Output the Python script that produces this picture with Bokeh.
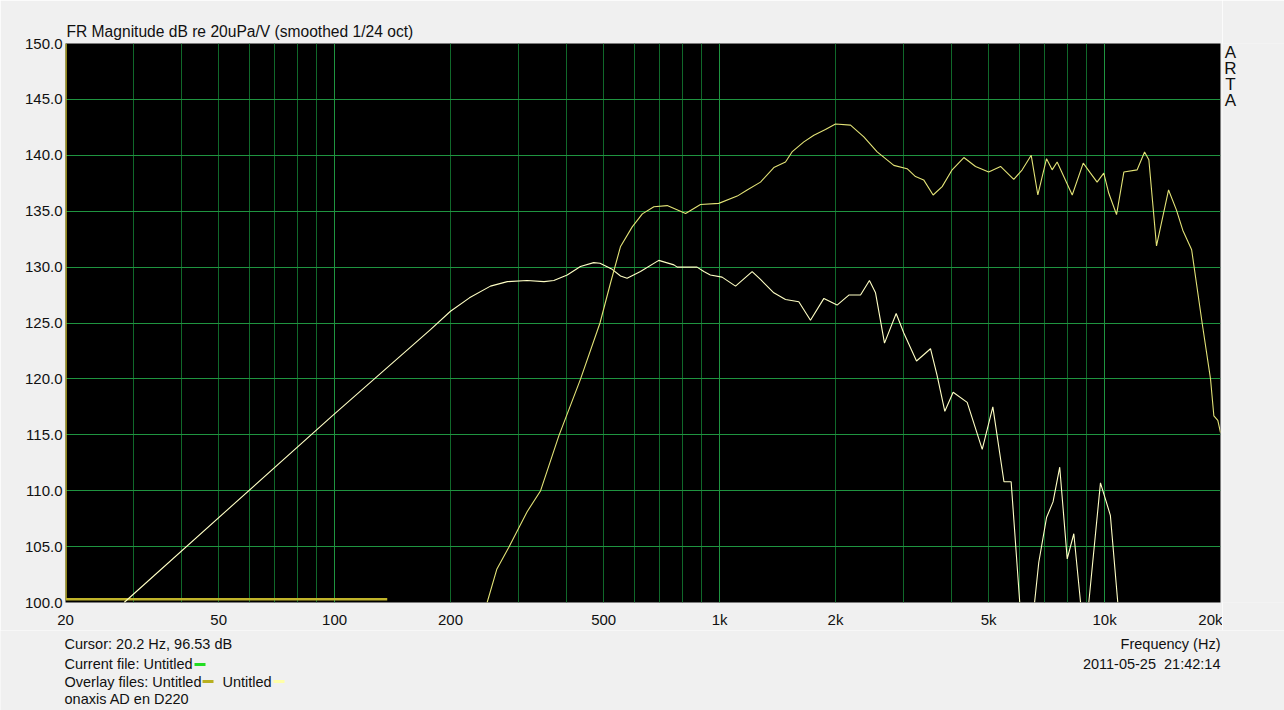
from bokeh.plotting import figure
from bokeh.layouts import column, row
from bokeh.models import Range1d, FixedTicker, Grid, NumeralTickFormatter
from bokeh.core.properties import value
from bokeh.embed import file_html
from bokeh.resources import INLINE

nan = float("nan")

# Overlay 1 (olive): runs up the left edge and along the bottom
olive_freq = [20, 20, 137]
olive_db = [150, 100.3, 100.3]

# Curve A (woofer) - frequency (Hz) and level (dB)
woofer_freq = [28.4, 98.6, 177.4, 200, 224, 254, 281, 316, 350, 371, 402, 435, 471, 489, 526, 553, 575,
               623, 695, 761, 776, 874, 910, 946, 1015, 1100, 1215, 1277, 1383, 1483, 1606, 1722, 1866,
               2019, 2166, 2323, 2450, 2541, 2681, 2875, 3009, 3247, 3530, 3673, 3846, 4042, 4396,
               4810, 5125, 5478, 5718, 6020, nan,
               6578, 6746, 7066, 7346, 7646, 7996, 8318, 8660, nan,
               9098, 9755, 10350, 10820]
woofer_db = [100.0, 116.7, 124.4, 126.05, 127.25, 128.3, 128.7, 128.8, 128.7, 128.8, 129.3, 130.05, 130.4,
             130.35, 129.8, 129.2, 129.0,
             129.6, 130.6, 130.2, 130.0, 130.0, 129.6, 129.3, 129.1, 128.3, 129.6, 128.9, 127.7, 127.1,
             126.9, 125.25, 127.2,
             126.6, 127.5, 127.5, 128.8, 127.7, 123.2, 125.85, 124.1, 121.6, 122.7, 120.3, 117.1, 118.8, 117.9,
             113.7, 117.5, 110.8, 110.8, 100.0, nan,
             100.0, 103.6, 107.6, 109.0, 112.1, 103.9, 106.15, 100.0, nan,
             100.0, 110.7, 107.8, 100.0]

# Curve B (mid/tweeter)
tweeter_freq = [249, 264, 283.5, 316, 342.8, 382.3, 435, 489, 521, 553, 593, 630, 675, 731, 816, 892, 995,
                1111, 1179, 1277, 1383, 1483, 1542, 1655, 1757, 1883, 2000, 2188, 2369, 2566, 2835, 3069,
                3227, 3389, 3586, 3785, 4018, 4309, 4621, 4999, 5367, 5808, 6109, 6447, 6708, 7066, 7307,
                7529, 8240, 8800, 9191, 9561, 9950, 10253, 10740, 11220, 12150, 12700, 13030, 13640,
                14660, 15370, 15960, 16830, 17920, 18840, 19220, 19680, 20000]
tweeter_db = [100.0, 103.0, 104.95, 108.1, 110.0, 114.9, 119.96, 125.0, 128.6, 131.85, 133.6, 134.76, 135.4,
              135.5, 134.8, 135.6, 135.7,
              136.35, 136.9, 137.6, 138.9, 139.4, 140.3, 141.2, 141.8, 142.3, 142.8, 142.7, 141.65, 140.3,
              139.1, 138.8,
              138.1, 137.8, 136.45, 137.2, 138.7, 139.8, 139.0, 138.5, 139.0, 137.85, 138.7, 140.0, 136.45,
              139.7, 138.7,
              139.4, 136.45, 139.3, 138.4, 137.6, 138.4, 136.6, 134.7, 138.5, 138.7, 140.3, 139.6, 131.9,
              136.9, 135.1, 133.3, 131.55, 125.0, 120.0, 116.7, 116.3, 115.2]

x_ticks = [20, 50, 100, 200, 500, 1000, 2000, 5000, 10000, 20000]
x_tick_labels = ["20", "50", "100", "200", "500", "1k", "2k", "5k", "10k", "20k"]
major_grid_x = [100, 1000, 10000]
minor_grid_x = [30, 40, 50, 60, 70, 80, 90, 200, 300, 400, 500, 600, 700, 800, 900,
                2000, 3000, 4000, 5000, 6000, 7000, 8000, 9000]
y_ticks = [100, 105, 110, 115, 120, 125, 130, 135, 140, 145, 150]

title_text = "FR Magnitude dB re 20uPa/V (smoothed 1/24 oct)"
side_text = ["A", "R", "T", "A"]
info_left = ["Cursor: 20.2 Hz, 96.53 dB", "Current file: Untitled", "Overlay files: Untitled", "onaxis AD en D220"]
info_left_extra = "Untitled"
info_right = ["Frequency (Hz)", "2011-05-25\u00a0\u00a021:42:14"]

FONT = "Liberation Sans"
BG = "#f0f0f0"
TXT = "#111111"
GRID_MAJOR = "#1f9440"
GRID_MINOR = "#10682a"


def blank(width, height, xr, yr, **borders):
    opts = dict(min_border=0)
    opts.update(borders)
    f = figure(width=width, height=height, x_range=Range1d(*xr), y_range=Range1d(*yr),
               output_backend="svg", toolbar_location=None, **opts)
    f.axis.visible = False
    f.grid.visible = False
    f.outline_line_color = None
    f.background_fill_color = BG
    f.border_fill_color = BG
    return f


def txt(f, x, y, s, align="left", size="14.5px"):
    f.text(x=[x], y=[y], text=[s], text_font=value(FONT), text_font_size=size,
           text_color=TXT, text_align=align, text_baseline="middle")


# --- main chart
p = figure(width=1222, height=630, x_axis_type="log",
           x_range=Range1d(20, 20000), y_range=Range1d(100, 150),
           output_backend="svg", toolbar_location=None,
           min_border_left=65, min_border_right=2, min_border_top=43, min_border_bottom=26)
p.background_fill_color = "black"
p.border_fill_color = BG
p.outline_line_color = None
# drop the default grids, use ARTA-style ones
p.center = [r for r in p.center if not isinstance(r, Grid)]

p.title.text = title_text
p.title.align = "left"
p.title.offset = 1
p.title.standoff = 7
p.title.text_font = FONT
p.title.text_font_size = "15.6px"
p.title.text_font_style = "normal"
p.title.text_color = TXT

p.add_layout(Grid(dimension=0, ticker=FixedTicker(ticks=minor_grid_x), grid_line_color=GRID_MINOR, grid_line_width=1))
p.add_layout(Grid(dimension=0, ticker=FixedTicker(ticks=major_grid_x), grid_line_color=GRID_MAJOR, grid_line_width=1))
p.add_layout(Grid(dimension=1, ticker=FixedTicker(ticks=y_ticks), grid_line_color=GRID_MAJOR, grid_line_width=1))

for ax in (p.xaxis[0], p.yaxis[0]):
    ax.axis_line_color = None
    ax.major_tick_line_color = None
    ax.minor_tick_line_color = None
    ax.major_tick_out = 0
    ax.major_tick_in = 0
    ax.major_label_text_font = FONT
    ax.major_label_text_font_size = "15px"
    ax.major_label_text_color = TXT

p.xaxis.ticker = FixedTicker(ticks=x_ticks)
p.xaxis.major_label_overrides = {t: l for t, l in zip(x_ticks, x_tick_labels)}
p.xaxis.major_label_standoff = 8
p.yaxis.ticker = FixedTicker(ticks=y_ticks)
p.yaxis.formatter = NumeralTickFormatter(format="0.0")
p.yaxis.major_label_standoff = 3

p.line(olive_freq, olive_db, line_color="#c0b42a", line_width=2.5)
p.line(woofer_freq, woofer_db, line_color="#ffffc4", line_width=1.1)
p.line(tweeter_freq, tweeter_db, line_color="#e2e276", line_width=1.1)

# --- vertical "ARTA" strip (frame aligned with the chart frame: page y 43..604)
arta = blank(62, 630, (1222, 1284), (604, 43), min_border_top=43, min_border_bottom=26)
for i, ch in enumerate(side_text):
    txt(arta, 1230, 52 + 16 * i, ch, align="center", size="17px")

# --- info strip below
bot = blank(1284, 80, (0, 1284), (710, 630))
ys = [643, 663, 681, 698]
for s, yy in zip(info_left, ys):
    txt(bot, 64, yy, s)
txt(bot, 222, 681, info_left_extra)
txt(bot, 1220, 643, info_right[0], align="right")
txt(bot, 1220, 663, info_right[1], align="right")
# legend dashes
bot.segment(x0=[194, 202, 273], y0=[664, 681, 681], x1=[205, 213, 284], y1=[664, 681, 681],
            line_color=["#22dd22", "#b8b020", "#ffffa8"], line_width=3)

layout = column(row(p, arta, spacing=0), bot, spacing=0)
open("out.html", "w").write(file_html(layout, INLINE))
